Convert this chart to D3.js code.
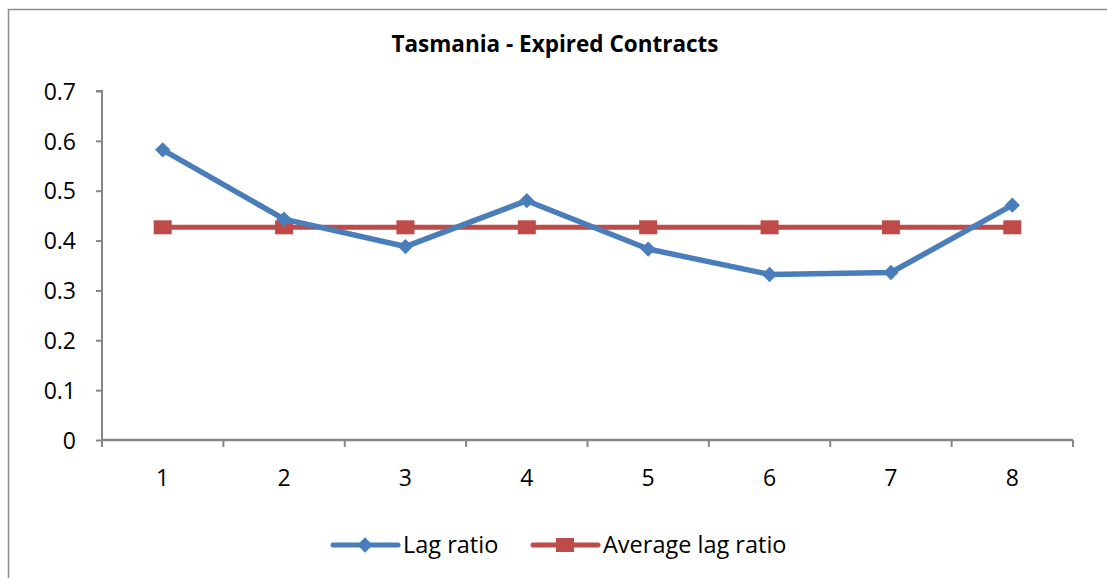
<!DOCTYPE html>
<html>
<head>
<meta charset="utf-8">
<script src="https://cdn.jsdelivr.net/npm/d3@7"></script>
<style>
  body { margin: 0; background: #fff; }
  svg { display: block; }
  text { font-family: "Open Sans", "DejaVu Sans", sans-serif; fill: #000; }
</style>
</head>
<body>
<svg id="chart" width="1107" height="578"></svg>
<script>
// chart values
let categories = ['1', '2', '3', '4', '5', '6', '7', '8'];
let lagRatio = [0.582, 0.443, 0.388, 0.480, 0.383, 0.332, 0.336, 0.471];
let avgLagRatio = [0.4266, 0.4266, 0.4266, 0.4266, 0.4266, 0.4266, 0.4266, 0.4266];
let yTicks = [0, 0.1, 0.2, 0.3, 0.4, 0.5, 0.6, 0.7];
let seriesNames = ['Lag ratio', 'Average lag ratio'];

let blue = '#4a7ebb';
let red = '#be4b48';
let axisGray = '#868686';

let svg = d3.select('#chart');

// outer chart border (runs off right and bottom)
svg.append('rect')
	.attr('x', 8.5).attr('y', 9.5)
	.attr('width', 1110).attr('height', 580)
	.attr('fill', 'none')
	.attr('stroke', '#8c8c8c')
	.attr('stroke-width', 1.5);

svg.append('text')
	.attr('x', 555).attr('y', 52)
	.attr('text-anchor', 'middle')
	.style('font-size', '22.5px')
	.style('font-weight', 'bold')
	.text('Tasmania - Expired Contracts');

let x = d3.scaleBand().domain(categories).range([102, 1073]);
let y = d3.scaleLinear().domain([0, 0.7]).range([440, 91]);

// y axis
let yAxis = svg.append('g')
	.attr('transform', 'translate(102,0)')
	.call(d3.axisLeft(y).tickValues(yTicks).tickSize(6).tickPadding(20)
		.tickFormat(d => d === 0 ? '0' : d3.format('.1f')(d)));
yAxis.selectAll('path, line').attr('stroke', axisGray).attr('stroke-width', 2);
yAxis.select('.domain').attr('d', 'M-6,91H0V440');
yAxis.selectAll('text').style('font-size', '23px').style('font-family', '"Open Sans", sans-serif').attr('dy', '0.36em');

// x axis with ticks on band edges
let xg = svg.append('g').attr('transform', 'translate(0,440)');
xg.append('line')
	.attr('x1', 102).attr('x2', 1073)
	.attr('stroke', axisGray).attr('stroke-width', 2.5);
let edges = categories.map(c => x(c)).concat([x.range()[1]]);
xg.selectAll('line.tick').data(edges).join('line')
	.attr('class', 'tick')
	.attr('x1', d => d).attr('x2', d => d)
	.attr('y1', 0).attr('y2', 7)
	.attr('stroke', axisGray).attr('stroke-width', 2);
xg.selectAll('text').data(categories).join('text')
	.attr('x', d => x(d) + x.bandwidth() / 2)
	.attr('y', 46)
	.attr('text-anchor', 'middle')
	.style('font-size', '23px')
	.text(d => d);

let cx = (d, i) => x(categories[i]) + x.bandwidth() / 2;
let line = d3.line().x(cx).y(d => y(d));

// average series
svg.append('path')
	.attr('d', line(avgLagRatio))
	.attr('fill', 'none')
	.attr('stroke', red)
	.attr('stroke-width', 5);
svg.selectAll('rect.avg').data(avgLagRatio).join('rect')
	.attr('class', 'avg')
	.attr('x', (d, i) => cx(d, i) - 9)
	.attr('y', d => y(d) - 7)
	.attr('width', 18).attr('height', 14)
	.attr('fill', red);

// lag ratio series
svg.append('path')
	.attr('d', line(lagRatio))
	.attr('fill', 'none')
	.attr('stroke', blue)
	.attr('stroke-width', 5.5)
	.attr('stroke-linejoin', 'round');
let diamond = d3.symbol().type(d3.symbolDiamond2).size(150);
svg.selectAll('path.lag').data(lagRatio).join('path')
	.attr('class', 'lag')
	.attr('d', diamond)
	.attr('transform', (d, i) => 'translate(' + cx(d, i) + ',' + y(d) + ')')
	.attr('fill', blue);

// legend
let legend = svg.append('g');
let lx = [333, 533];
let colors = [blue, red];
seriesNames.forEach(function(name, i) {
	let g = legend.append('g').attr('transform', 'translate(' + lx[i] + ',545)');
	g.append('line')
		.attr('x1', 0).attr('x2', 65)
		.attr('stroke', colors[i]).attr('stroke-width', 5)
		.attr('stroke-linecap', 'round');
	if (i === 0) {
		g.append('path').attr('d', diamond).attr('transform', 'translate(32,0)').attr('fill', blue);
	} else {
		g.append('rect').attr('x', 23).attr('y', -7).attr('width', 18).attr('height', 14).attr('fill', red);
	}
	g.append('text')
		.attr('x', 70).attr('y', 0).attr('dy', '0.36em')
		.style('font-size', '23.5px')
		.text(name);
});
</script>
</body>
</html>
